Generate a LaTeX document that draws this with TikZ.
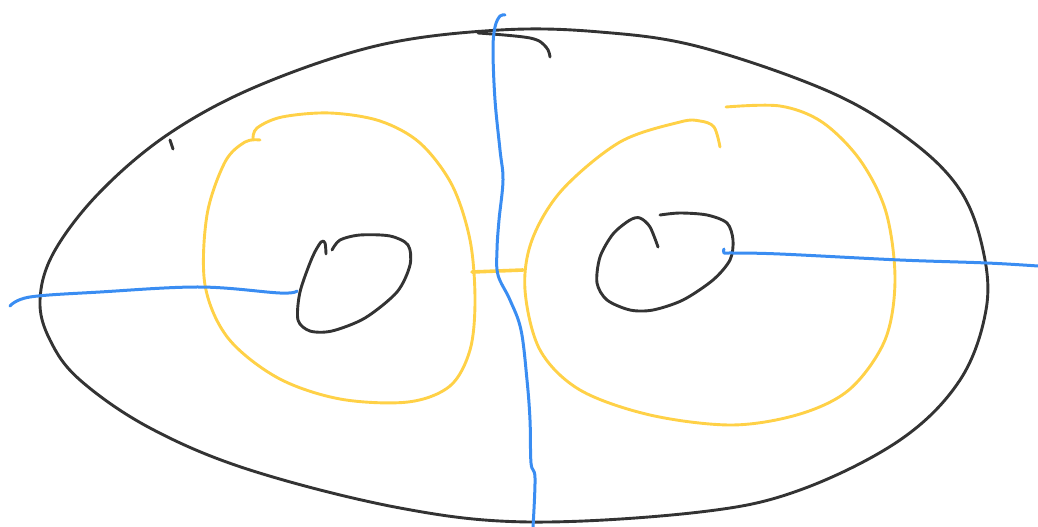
\documentclass[tikz,border=0pt]{standalone}
\usepackage{xcolor}
\definecolor{inkgray}{HTML}{333333}
\definecolor{inkyellow}{HTML}{FFD147}
\definecolor{inkblue}{HTML}{3A8DF2}

\begin{document}
\begin{tikzpicture}[x=1pt, y=-1pt,
  ink/.style={draw=inkgray, line width=2.9pt, line cap=round, line join=round},
  loopline/.style={draw=inkyellow, line width=2.9pt, line cap=round, line join=round},
  cutline/.style={draw=inkblue, line width=3pt, line cap=round, line join=round}]
\useasboundingbox (0,0) rectangle (1038,527);
% outer surface
\draw[ink] plot[smooth cycle, tension=0.6] coordinates {(500,30) (380,45) (260,85) (170,133) (100,192) (54,252) (40,300) (50,340) (80,380) (150,428) (250,470) (400,508) (530,522) (700,512) (800,490) (900,440) (960,380) (986,310) (983,250) (960,190) (910,140) (830,92) (700,47) (600,32)};
\draw[ink] (170,140) -- (173,149);
\draw[ink] plot[smooth, tension=0.6] coordinates {(478,33) (530,38) (546,47) (550,57)};
% left hole
\draw[ink] plot[smooth, tension=0.5] coordinates {(326,254) (325,243) (321,242) (312,258) (300,292) (298,320) (310,331) (332,331) (365,318) (397,292) (410,265) (408,245) (390,236) (360,235) (340,240) (332,250)};
% right hole
\draw[ink] plot[smooth, tension=0.5] coordinates {(658,247) (650,227) (640,218) (630,220) (613,234) (600,257) (597,283) (607,300) (630,310) (653,310) (683,300) (713,280) (730,260) (733,240) (727,223) (707,215) (680,213) (660,215)};
% yellow loops
\draw[loopline] plot[smooth, tension=0.55] coordinates {(260,140) (245,142) (225,162) (207,215) (205,285) (228,338) (278,378) (340,399) (408,402) (450,386) (470,350) (475,300) (470,240) (452,185) (420,143) (380,121) (330,113) (282,117) (257,128) (253,139)};
\draw[loopline] plot[smooth, tension=0.55] coordinates {(720,147) (714,127) (700,121) (680,122) (620,142) (562,190) (532,240) (525,290) (540,350) (580,390) (650,415) (732,425) (800,414) (850,389) (885,340) (895,280) (886,212) (860,160) (822,122) (780,106) (726,107)};
\draw[loopline, line width=3.6pt] (472,272) -- (523,270);
% blue cuts
\draw[cutline] plot[smooth, tension=0.6] coordinates {(505,15) (500,16) (495,27) (493,50) (495,100) (500,150) (503,180) (499,220) (497,250) (498,275) (510,300) (521,330) (527,380) (530,420) (531,463) (535,478) (533,527)};
\draw[cutline] plot[smooth, tension=0.6] coordinates {(10,306) (30,297) (100,292) (200,287) (280,293) (297,291)};
\draw[cutline] plot[smooth, tension=0.6] coordinates {(724,249) (724,253) (733,253) (780,254) (900,260) (987,263) (1038,266)};
\end{tikzpicture}
\end{document}
